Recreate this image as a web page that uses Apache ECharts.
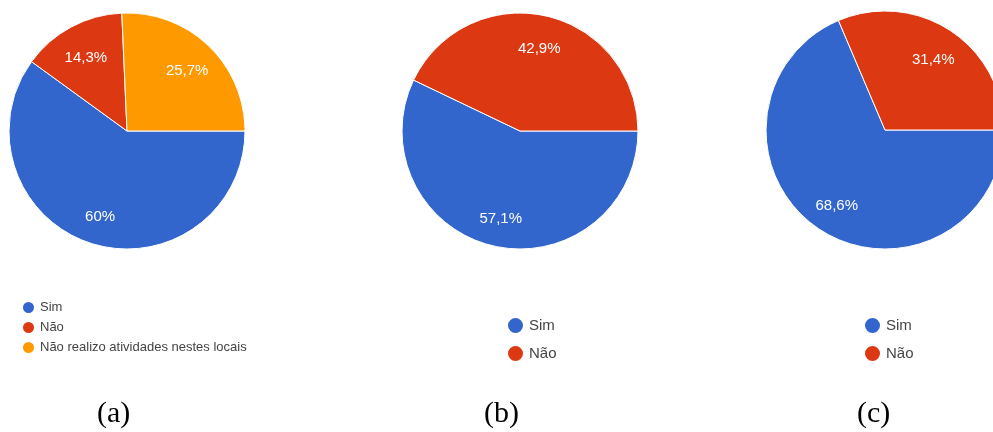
<!DOCTYPE html>
<html>
<head>
<meta charset="utf-8">
<script src="https://cdn.jsdelivr.net/npm/echarts@6/dist/echarts.min.js"></script>
<style>
html,body{margin:0;padding:0;background:#fff;}
#main{width:993px;height:432px;}
</style>
</head>
<body>
<div id="main"></div>
<script>
// Data
var categoriesA = ['Sim', 'Não', 'Não realizo atividades nestes locais'];
var valuesA = [60, 14.3, 25.7];
var categoriesB = ['Sim', 'Não'];
var valuesB = [57.1, 42.9];
var categoriesC = ['Sim', 'Não'];
var valuesC = [68.6, 31.4];
var captions = ['(a)', '(b)', '(c)'];

var colors = ['#3366CC', '#DC3912', '#FF9900'];

function makeData(cats, vals) {
  return cats.map(function (c, i) {
    return { name: c, value: vals[i], itemStyle: { color: colors[i] } };
  });
}
function fmt(p) {
  return String(p.value).replace('.', ',') + '%';
}

var pies = [
  { center: [127, 131], r: 118, cats: categoriesA, vals: valuesA },
  { center: [520, 131], r: 118, cats: categoriesB, vals: valuesB },
  { center: [885, 130], r: 119, cats: categoriesC, vals: valuesC }
];

var series = [];
pies.forEach(function (p) {
  series.push({
    type: 'pie',
    center: p.center,
    radius: p.r,
    startAngle: 0,
    clockwise: true,
    silent: true,
    animation: false,
    label: { show: false },
    labelLine: { show: false },
    itemStyle: { borderColor: '#ffffff', borderWidth: 1 },
    data: makeData(p.cats, p.vals)
  });
  series.push({
    type: 'pie',
    center: p.center,
    radius: [Math.round(p.r * 0.42), p.r],
    startAngle: 0,
    clockwise: true,
    silent: true,
    animation: false,
    itemStyle: { color: 'rgba(0,0,0,0)', borderWidth: 0 },
    label: {
      show: true,
      position: 'inside',
      formatter: fmt,
      offset: [0, 3],
      color: '#ffffff',
      fontSize: 15,
      fontFamily: '"Liberation Sans", Arial, sans-serif'
    },
    labelLine: { show: false },
    data: p.cats.map(function (c, i) { return { name: c, value: p.vals[i], itemStyle: { color: 'rgba(0,0,0,0)' } }; })
  });
});

var option = {
  backgroundColor: '#ffffff',
  animation: false,
  legend: [
    {
      orient: 'vertical', left: 16, top: 295,
      icon: 'circle', itemWidth: 13, itemHeight: 13, itemGap: 5,
      selectedMode: false,
      data: categoriesA,
      textStyle: { fontSize: 13, color: '#444444', fontFamily: '"Liberation Sans", Arial, sans-serif' }
    },
    {
      orient: 'vertical', left: 501, top: 311,
      icon: 'circle', itemWidth: 17, itemHeight: 17, itemGap: 9,
      selectedMode: false,
      data: categoriesB,
      textStyle: { fontSize: 15, color: '#444444', fontFamily: '"Liberation Sans", Arial, sans-serif' }
    },
    {
      orient: 'vertical', left: 858, top: 311,
      icon: 'circle', itemWidth: 17, itemHeight: 17, itemGap: 9,
      selectedMode: false,
      data: categoriesC,
      textStyle: { fontSize: 15, color: '#444444', fontFamily: '"Liberation Sans", Arial, sans-serif' }
    }
  ],
  graphic: captions.map(function (t, i) {
    var xs = [114, 501, 874];
    return {
      type: 'text',
      left: xs[i] - 17,
      top: 399,
      style: { text: t, fontSize: 30, fontFamily: '"Liberation Serif", "Times New Roman", serif', fill: '#000000' }
    };
  }),
  series: series
};

var chart = echarts.init(document.getElementById('main'), null, { renderer: 'canvas' });
chart.setOption(option);
</script>
</body>
</html>
